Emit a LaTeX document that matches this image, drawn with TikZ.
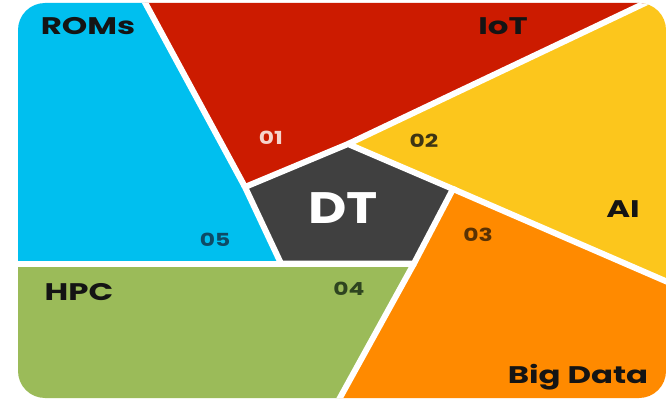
\documentclass[tikz,border=0pt]{standalone}
\usepackage{fontspec}
\setmainfont{Poppins}
\definecolor{cy}{HTML}{00BFEF}
\definecolor{rd}{HTML}{CC1B00}
\definecolor{yl}{HTML}{FCC61C}
\definecolor{og}{HTML}{FF8A00}
\definecolor{gr}{HTML}{9BBB59}
\definecolor{dk}{HTML}{404040}
\definecolor{labc}{HTML}{141414}
\definecolor{n1}{HTML}{F6D4CC}
\definecolor{n2}{HTML}{3E3414}
\definecolor{n3}{HTML}{5A3204}
\definecolor{n4}{HTML}{2E4420}
\definecolor{n5}{HTML}{0E4A66}
\tikzset{
  lab/.style={font=\bfseries\fontsize{24}{24}\selectfont, text=labc, inner sep=0pt, anchor=base, xscale=1.35},
  num/.style={font=\bfseries\fontsize{18}{18}\selectfont, inner sep=0pt, anchor=base, xscale=1.3},
  sep/.style={draw=white, line width=6pt},
}
\begin{document}
\begin{tikzpicture}[x=1pt,y=-1pt]
\useasboundingbox (0,0) rectangle (667,401);
\fill[white] (0,0) rectangle (667,401);
% pentagon vertices
\coordinate (pt) at (348,144);
\coordinate (pul) at (245,187);
\coordinate (pll) at (281,263.5);
\coordinate (plr) at (414,263.5);
\coordinate (pr) at (453,189);
% outer ends
\coordinate (a) at (141,-5);
\coordinate (b) at (662,-5);
\coordinate (c) at (700,296);
\coordinate (d) at (336,405);
\coordinate (e) at (-5,263.5);
\begin{scope}
\clip[rounded corners=27pt] (18,3) rectangle (666,398);
\fill[cy] (-5,-5) -- (a) -- (pul) -- (pll) -- (e) -- cycle;
\fill[rd] (a) -- (b) -- (pt) -- (pul) -- cycle;
\fill[yl] (b) -- (700,-5) -- (c) -- (pr) -- (pt) -- cycle;
\fill[og] (pr) -- (c) -- (700,405) -- (d) -- (plr) -- cycle;
\fill[gr] (e) -- (plr) -- (d) -- (-5,405) -- cycle;
\draw[sep] (a) -- (pul);
\draw[sep] (pt) -- (b);
\draw[sep] (pr) -- (c);
\draw[sep] (plr) -- (d);
\draw[sep] (e) -- (plr);
\draw[sep, fill=dk, line join=miter] (pt) -- (pr) -- (plr) -- (pll) -- (pul) -- cycle;
\end{scope}
\node[lab] (roms) at (88,35) {ROMs};
\node[lab] (iot) at (503,35) {IoT};
\node[lab] (ai) at (623,217) {AI};
\node[lab] (hpc) at (79,300) {HPC};
\node[lab] (bd) at (578,383) {Big Data};
\node[font=\bfseries\fontsize{44}{44}\selectfont, text=white, inner sep=0pt, anchor=base, xscale=1.2] (dt) at (343,223) {DT};
\node[num, text=n1] (n01) at (271,145) {01};
\node[num, text=n2] (n02) at (424,148) {02};
\node[num, text=n3] (n03) at (478,241) {03};
\node[num, text=n4] (n04) at (349,295) {04};
\node[num, text=n5] (n05) at (215,246) {05};
\end{tikzpicture}
\end{document}
